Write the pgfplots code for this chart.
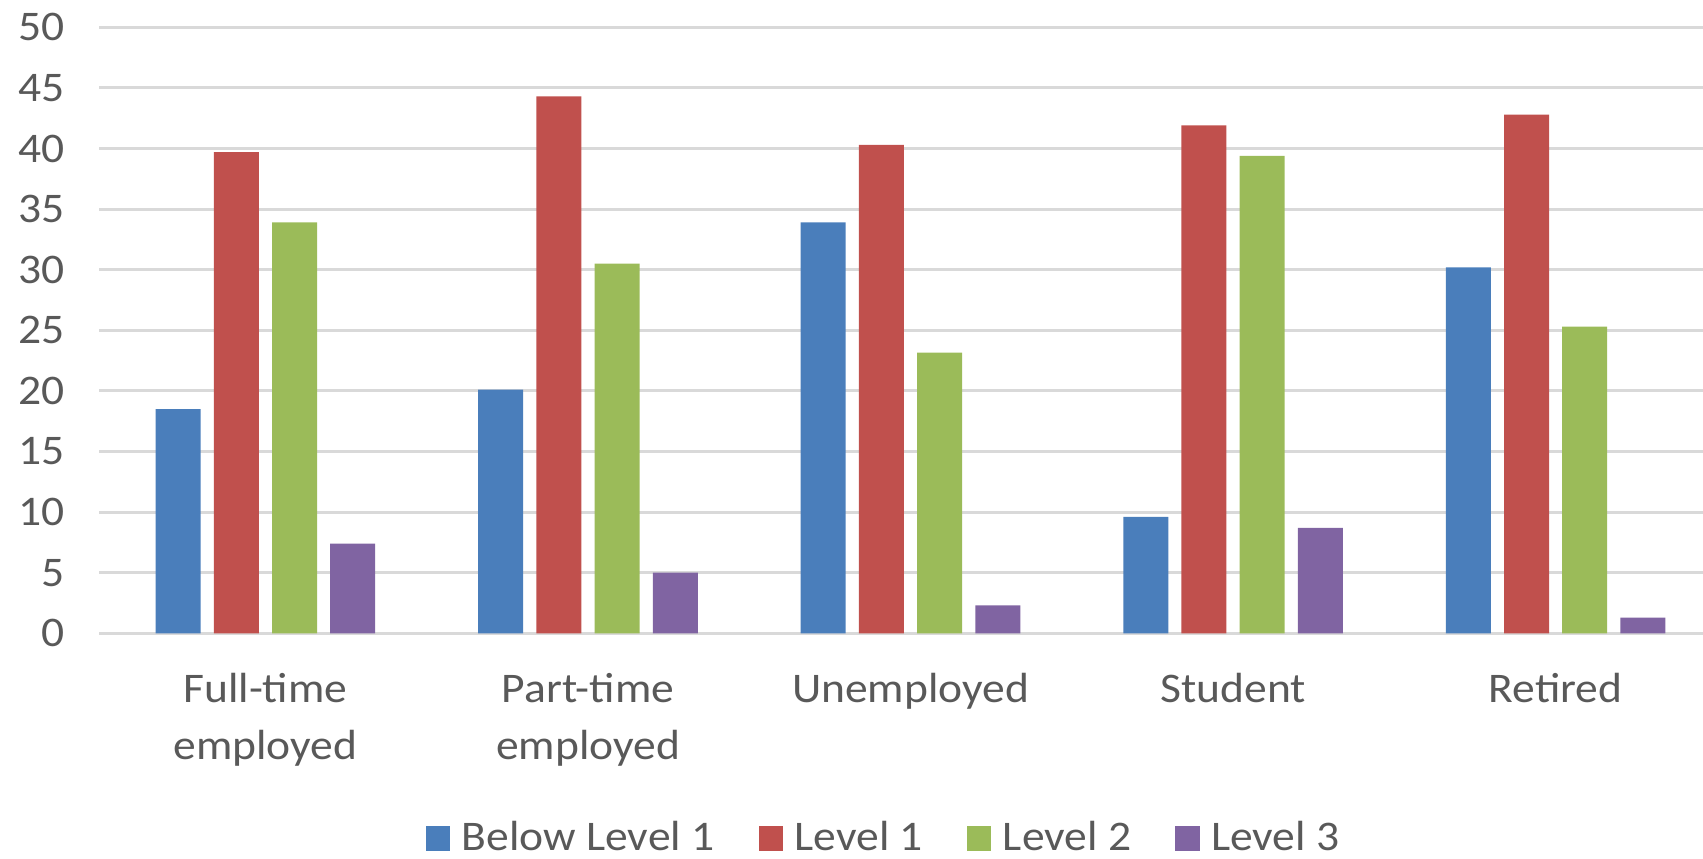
\documentclass[border=0pt]{standalone}
\usepackage{pgfplots}
\pgfplotsset{compat=1.18}
\usepackage{fontspec}
\setmainfont{Carlito}[FakeStretch=1.08]
\definecolor{cblue}{HTML}{4A7EBB}
\definecolor{cred}{HTML}{C0504D}
\definecolor{cgreen}{HTML}{9BBB59}
\definecolor{cpurple}{HTML}{8064A2}
\definecolor{txt}{HTML}{595959}
\definecolor{gridc}{HTML}{D9D9D9}
\pgfplotsset{ybar legend/.style={/pgfplots/legend image code/.code={\fill[##1] (0mm,-1.25mm) rectangle (2.45mm,1.25mm); \path (2.9mm,0mm);}}}
\begin{document}
\begin{tikzpicture}
\begin{axis}[
  name=ax,
  scale only axis,
  width=160.4mm, height=60.6mm,
  ybar=1.32mm, bar width=4.5mm,
  xmin=-0.516, xmax=4.457,
  ymin=0, ymax=50,
  ytick={0,5,...,50},
  xtick={0,1,2,3,4},
  xticklabels={Full-time\\employed, Part-time\\employed, Unemployed, Student, Retired},
  ymajorgrids,
  grid style={draw=gridc, line width=0.9pt},
  axis line style={draw=none},
  major tick length=0pt,
  tick style={draw=none},
  tick label style={font=\fontsize{12}{16}\selectfont, text=txt},
  /pgf/number format/assume math mode=true,
  xticklabel style={align=center, anchor=north, yshift=-2.8mm},
  yticklabel style={xshift=-2.2mm},
  legend columns=4,
  legend style={at={(0.4907,-0.338)}, anchor=center, draw=none, fill=none,
    font=\fontsize{12}{14}\selectfont, text=txt,
    /tikz/every even column/.append style={column sep=3.7mm}},
]
\addplot[fill=cblue, draw=none] coordinates {(0,18.5) (1,20.1) (2,33.9) (3,9.6) (4,30.2)};
\addplot[fill=cred, draw=none] coordinates {(0,39.7) (1,44.3) (2,40.3) (3,41.9) (4,42.8)};
\addplot[fill=cgreen, draw=none] coordinates {(0,33.9) (1,30.5) (2,23.15) (3,39.4) (4,25.3)};
\addplot[fill=cpurple, draw=none] coordinates {(0,7.4) (1,5.0) (2,2.3) (3,8.7) (4,1.3)};
\legend{Below Level 1, Level 1, Level 2, Level 3}
\end{axis}
\pgfresetboundingbox
\path ([shift={(-9.9mm,-22.57mm)}]ax.south west) rectangle ([shift={(0mm,2.73mm)}]ax.north east);
\end{tikzpicture}
\end{document}
